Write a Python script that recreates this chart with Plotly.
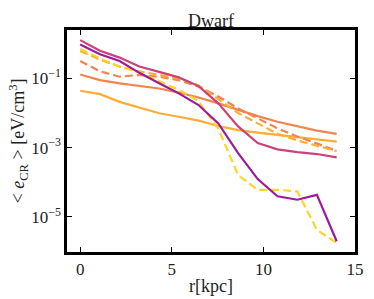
import plotly.graph_objects as go

r_kpc = [0, 1.08, 2.15, 3.23, 4.31, 5.38, 6.46, 7.54, 8.62, 9.69, 10.77, 11.85, 12.92, 14.0]

orange_dashed = [0.32, 0.16, 0.112, 0.126, 0.112, 0.089, 0.058, 0.030, 0.0135, 7.1e-3, 3.6e-3, 2.1e-3, 1.32e-3, 8.1e-4]
lightorange_dashed = [0.62, 0.35, 0.22, 0.16, 0.126, 0.10, 0.063, 0.025, 0.010, 5.0e-3, 2.5e-3, 1.6e-3, 1.12e-3, 7.9e-4]
yellow_dashed = [0.71, 0.38, 0.22, 0.15, 0.083, 0.047, 0.022, 3.5e-3, 1.6e-4, 6.0e-5, 6.0e-5, 5.4e-5, 4.2e-6, 1.74e-6]
lightorange_solid = [0.044, 0.035, 0.021, 0.0145, 9.8e-3, 7.8e-3, 6.0e-3, 4.2e-3, 3.2e-3, 2.7e-3, 2.3e-3, 2.0e-3, 1.66e-3, 1.48e-3]
orange_solid = [0.13, 0.089, 0.072, 0.060, 0.051, 0.039, 0.028, 0.019, 0.0123, 8.1e-3, 5.6e-3, 4.1e-3, 3.1e-3, 2.5e-3]
pink_solid = [1.28, 0.63, 0.40, 0.22, 0.155, 0.107, 0.060, 0.019, 4.1e-3, 1.35e-3, 8.9e-4, 7.4e-4, 6.5e-4, 5.2e-4]
purple_solid = [0.95, 0.50, 0.32, 0.145, 0.072, 0.037, 0.017, 5.0e-3, 6.9e-4, 1.23e-4, 3.9e-5, 3.1e-5, 4.3e-5, 1.95e-6]

x_ticks = [0, 5, 10, 15]
y_tick_vals = [1e-1, 1e-3, 1e-5]
y_tick_text = ["10<sup>−1</sup>", "10<sup>−3</sup>", "10<sup>−5</sup>"]

series = [
    (lightorange_solid, "#fdae32", "solid"),
    (orange_solid, "#f3834f", "solid"),
    (orange_dashed, "#f3834f", "8px,4px"),
    (lightorange_dashed, "#fdae32", "8px,4px"),
    (yellow_dashed, "#fbd625", "8px,4px"),
    (pink_solid, "#c9437a", "solid"),
    (purple_solid, "#9e1a9c", "solid"),
]

fig = go.Figure()
for vals, col, dash in series:
    fig.add_trace(go.Scatter(x=r_kpc, y=vals, mode="lines",
                             line=dict(color=col, width=2.2, dash=dash),
                             showlegend=False))

FONT = "Liberation Serif"
fig.update_layout(
    width=374, height=299,
    margin=dict(l=67, r=19, t=30, b=47, autoexpand=False),
    paper_bgcolor="white", plot_bgcolor="white",
    font=dict(family=FONT, size=16, color="#222"),
    title=dict(text="Dwarf", x=0.5, xref="paper", xanchor="center",
               y=1, yref="paper", yanchor="bottom", pad=dict(b=3),
               font=dict(family=FONT, size=18, color="#222")),
)
fig.update_xaxes(
    range=[-0.72, 15], tickvals=x_ticks, ticks="inside", ticklen=5,
    tickcolor="black", showline=True, linecolor="black", linewidth=2.5,
    mirror="ticks", showgrid=False, zeroline=False, automargin=False,
    tickfont=dict(family=FONT, size=17),
    title=dict(text="r[kpc]", font=dict(family=FONT, size=18), standoff=2),
)
fig.update_yaxes(
    type="log", range=[-6.02, 0.4], tickvals=y_tick_vals, ticktext=y_tick_text,
    ticks="inside", ticklen=5, tickcolor="black", showline=True,
    linecolor="black", linewidth=2.5, mirror="ticks", showgrid=False,
    zeroline=False, automargin=False, tickfont=dict(family=FONT, size=17),
    title=dict(text="&lt; <i>e</i><sub>CR</sub> &gt; [eV/cm<sup>3</sup>]",
               font=dict(family=FONT, size=18), standoff=0),
)

fig.write_html("out.html", config={"displayModeBar": False},
               post_script="document.body.style.margin='0';document.body.style.padding='0';")
